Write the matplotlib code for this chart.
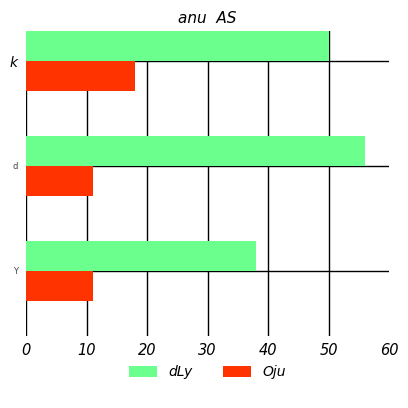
import matplotlib
matplotlib.use("Agg")
import matplotlib.pyplot as plt
import numpy as np

categories = ["Y", "d", "k"]
series_names = ["dLy", "Oju"]
dly_values = [38, 56, 50]
oju_values = [11, 11, 18]
x_ticks = [0, 10, 20, 30, 40, 50, 60]

GREEN = "#6bff8e"
RED = "#ff3300"

fig = plt.figure(figsize=(4.08, 4.08), dpi=100)
ax = fig.add_axes([26 / 408, 1 - 336 / 408, 363 / 408, 305 / 408])

y = np.arange(len(categories))
h = 0.286
ax.barh(y + h / 2, dly_values, height=h, color=GREEN, label=series_names[0], zorder=3)
ax.barh(y - h / 2, oju_values, height=h, color=RED, label=series_names[1], zorder=3)

ax.set_xlim(0, 60)
ax.set_ylim(-0.62, 2.286)
ax.set_xticks(x_ticks)
ax.set_xticklabels([str(t) for t in x_ticks], fontstyle="italic", fontsize=10.5)
ax.set_yticks(y)
ax.set_yticklabels(categories)
ax.tick_params(axis="x", length=0, pad=5)
ax.tick_params(axis="y", length=0, pad=6)

# ラベルごとに大きさが違う
for lbl in ax.get_yticklabels():
    if lbl.get_text() == "k":
        lbl.set_fontsize(10)
        lbl.set_fontstyle("italic")
        lbl.set_color("black")
    else:
        lbl.set_fontsize(6)
        lbl.set_color("#444444")

ax.grid(True, color="black", linewidth=1, zorder=1)
ax.xaxis.get_gridlines()[-1].set_visible(False)
for s in ax.spines.values():
    s.set_visible(False)

ax.set_title("anu  AS", fontstyle="italic", fontsize=11, pad=6)

leg = ax.legend(loc="upper center", bbox_to_anchor=(0.5, -0.055), ncol=2,
                frameon=False, prop={"style": "italic", "size": 10},
                handlelength=2.0, handleheight=0.8, columnspacing=2.2)

fig.savefig("out.png", dpi=100)
